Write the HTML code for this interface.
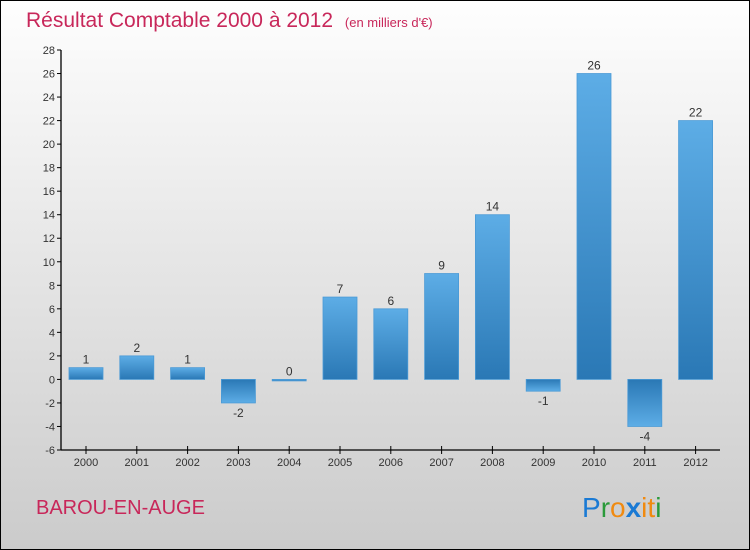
<!DOCTYPE html>
<html><head><meta charset="utf-8"><style>
body{margin:0;width:750px;height:550px;overflow:hidden}
#c{position:absolute;left:0;top:0;width:748px;height:548px;border:1px solid #000;background:linear-gradient(#fefefe,#cbcbcb)}
</style></head><body>
<div id="c">
<svg id="s" width="750" height="550" style="position:absolute;left:-1px;top:-1px">
<defs>
<linearGradient id="gp" x1="0" y1="0" x2="0" y2="1"><stop offset="0" stop-color="#5dade6"/><stop offset="1" stop-color="#2a78b5"/></linearGradient>
<linearGradient id="gn" x1="0" y1="0" x2="0" y2="1"><stop offset="0" stop-color="#2a78b5"/><stop offset="1" stop-color="#5dade6"/></linearGradient>
</defs>
<text x="26" y="27" font-family="Liberation Sans, sans-serif" font-size="21" fill="#c8275a">Résultat Comptable 2000 à 2012 <tspan font-size="13" dx="6">(en milliers d'€)</tspan></text>
<text x="36" y="514" font-family="Liberation Sans, sans-serif" font-size="20" fill="#c8275a">BAROU-EN-AUGE</text>
<g font-family="Liberation Sans, sans-serif" font-size="28">
<text x="582" y="517" fill="#1a7ad4">P<tspan fill="#2a9a3a">r</tspan><tspan fill="#f08a10">o</tspan><tspan fill="#1a7ad4" font-weight="bold">x</tspan><tspan fill="#f08a10">i</tspan><tspan fill="#f08a10">t</tspan><tspan fill="#2a9a3a">i</tspan></text>
</g>
<g id="g"></g>
</svg>
</div>
<script>
const years=["2000","2001","2002","2003","2004","2005","2006","2007","2008","2009","2010","2011","2012"];
const values=[1,2,1,-2,0,7,6,9,14,-1,26,-4,22];
const yTicks=[-6,-4,-2,0,2,4,6,8,10,12,14,16,18,20,22,24,26,28];
const ns="http://www.w3.org/2000/svg";
const g=document.getElementById('g');
const y=v=>450-(v+6)*400/34;
const x=i=>86+i*50.8;
function mk(t,a){const e=document.createElementNS(ns,t);for(const k in a)e.setAttribute(k,a[k]);g.appendChild(e);return e;}
const ya=mk('line',{x1:61,y1:50,x2:61,y2:450,stroke:'#000','stroke-width':1.3});


const xa=mk('line',{x1:61,y1:450,x2:720,y2:450,stroke:'#000','stroke-width':1.3});


yTicks.forEach(v=>{
 mk('line',{x1:57,x2:61,y1:y(v),y2:y(v),stroke:'#000'});
 const t=mk('text',{x:55,y:y(v)+4,'text-anchor':'end','font-family':'Liberation Sans, sans-serif','font-size':11,fill:'#333'});
 t.textContent=v;
 
 
});
years.forEach((yr,i)=>{
 mk('line',{x1:x(i),x2:x(i),y1:446,y2:454,stroke:'#000'});
 const t=mk('text',{x:x(i),y:466,'text-anchor':'middle','font-family':'Liberation Sans, sans-serif','font-size':11,fill:'#333'});
 t.textContent=yr;
 
 
 const v=values[i];
 const top=Math.min(y(v),y(0)),h=Math.max(Math.abs(y(v)-y(0)),1.5);
 const r=mk('rect',{x:x(i)-17,y:top,width:34,height:h,fill:v>=0?'url(#gp)':'url(#gn)',stroke:'#4a9ad6','stroke-width':0.8});
 
 
 const l=mk('text',{x:x(i),y:v>=0?y(v)-4:y(v)+14,'text-anchor':'middle','font-family':'Liberation Sans, sans-serif','font-size':12,fill:'#333'});
 l.textContent=v;
 
 
});
</script>
</body></html>
